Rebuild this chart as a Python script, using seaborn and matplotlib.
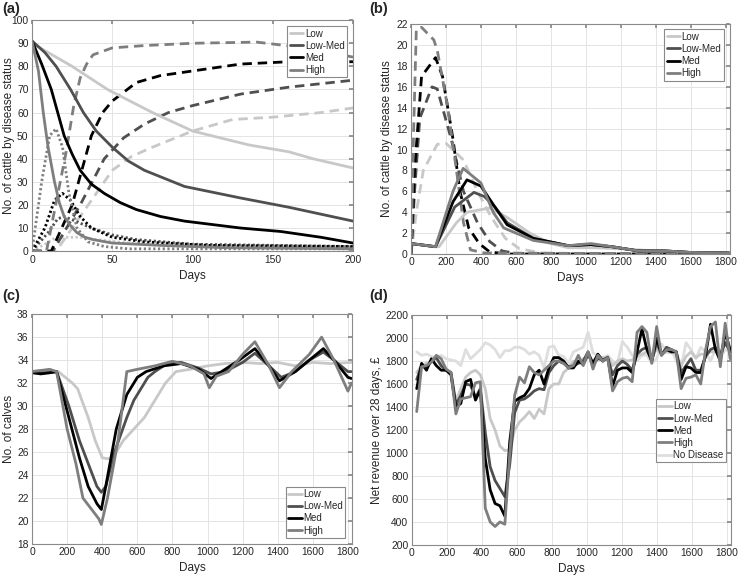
import numpy as np
import pandas as pd
import seaborn as sns
import matplotlib.pyplot as plt

# scenario names and grey shades
levels = ["Low", "Low-Med", "Med", "High"]
shades = {"Low": "#c8c8c8", "Low-Med": "#4f4f4f", "Med": "#000000",
          "High": "#7e7e7e", "No Disease": "#dedede"}

# ---- (a) first 200 days: susceptible (solid), recovered (dashed), infected (dotted)
a_sus = {
    "Low": ([0, 10, 25, 47, 75, 100, 135, 160, 175, 200], [90, 86, 80, 70, 60, 52, 46, 43, 40, 36]),
    "Low-Med": ([0, 8, 15, 24, 32, 40, 50, 60, 70, 95, 130, 160, 200],
                [91, 86, 80, 70, 60, 52, 45, 39, 35, 28, 23, 19, 13]),
    "Med": ([0, 6, 12, 16, 20, 25, 30, 37, 45, 55, 65, 80, 95, 130, 155, 180, 200],
            [91, 81, 70, 60, 50, 42, 35, 29, 25, 21, 18, 15, 13, 10, 8.5, 6, 3.5]),
    "High": ([0, 4, 7, 10, 14, 17, 20, 24, 28, 33, 38, 50, 80, 120, 200],
             [91, 78, 60, 45, 30, 21, 15, 11, 8, 6, 5, 3.5, 2.5, 1.5, 1]),
}
a_rec = {
    "Low": ([0, 15, 20, 35, 50, 62, 75, 100, 125, 150, 180, 200], [0, 0, 5, 20, 35, 41, 45, 52, 57, 58, 60, 62]),
    "Low-Med": ([0, 13, 30, 45, 57, 70, 85, 100, 130, 160, 200], [0, 0, 20, 40, 49, 55, 60, 63, 68, 71, 74]),
    "Med": ([0, 12, 25, 37, 44, 50, 65, 80, 100, 130, 160, 200], [0, 0, 20, 50, 60, 65, 73, 76, 78, 81, 82, 82]),
    "High": ([0, 9, 21, 26, 30, 34, 38, 50, 70, 100, 140, 170, 200],
             [0, 0, 42, 63, 75, 81, 85, 88, 89, 90, 90.5, 88, 84]),
}
a_inf = {
    "Low": ([0, 8, 15, 30, 40, 60, 100, 200], [0, 3, 6, 6, 5, 3.5, 2, 1.5]),
    "Low-Med": ([0, 10, 16, 20, 27, 37, 50, 65, 100, 200], [0, 8, 14, 15, 13, 10, 7, 5, 3, 2]),
    "Med": ([0, 8, 14, 19, 24, 30, 37, 50, 70, 110, 200], [0, 10, 22, 25, 22, 15, 10, 6, 4, 2.5, 2]),
    "High": ([0, 6, 11, 15, 19, 23, 28, 35, 45, 60, 200], [0, 30, 50, 53, 45, 25, 10, 4, 2, 1, 1]),
}

# ---- (b) five years: infected (solid), exposed (dashed)
b_inf = {
    "Low": ([0, 140, 160, 260, 320, 450, 550, 680, 800, 900, 1050, 1200, 1400, 1600, 1820],
            [1, 0.7, 0.7, 3, 4, 4.4, 3.5, 2, 1, 0.6, 0.6, 0.5, 0.3, 0.15, 0.1]),
    "Low-Med": ([0, 140, 250, 360, 420, 480, 550, 700, 900, 1030, 1150, 1300, 1450, 1600, 1820],
                [1, 0.7, 4.5, 5.9, 5.5, 4.5, 3, 1.5, 0.8, 0.9, 0.7, 0.3, 0.3, 0.15, 0.1]),
    "Med": ([0, 140, 240, 320, 400, 480, 550, 700, 900, 1030, 1150, 1300, 1450, 1600, 1820],
            [1, 0.7, 5, 7.1, 6.5, 4.5, 2.8, 1.5, 0.8, 0.9, 0.7, 0.3, 0.3, 0.15, 0.1]),
    "High": ([0, 140, 240, 298, 400, 470, 530, 700, 900, 1030, 1150, 1300, 1450, 1600, 1820],
             [1, 0.7, 6, 8.2, 6.8, 4, 2.5, 1.3, 0.8, 1.0, 0.7, 0.3, 0.3, 0.15, 0.1]),
}
b_exp = {
    "Low": ([0, 30, 70, 150, 200, 300, 380, 460, 540, 620, 750, 900, 1820],
            [0, 4, 8, 10.5, 10.6, 9, 6, 3.5, 1.5, 0.5, 0.1, 0, 0]),
    "Low-Med": ([0, 20, 50, 120, 150, 230, 300, 380, 450, 520, 600, 1820],
                [0, 6, 13, 16, 15.8, 11, 6, 3, 1.2, 0.3, 0.05, 0]),
    "Med": ([0, 20, 60, 140, 180, 240, 280, 330, 390, 450, 550, 1820],
            [0, 8, 17, 18.8, 17, 11, 6, 2.5, 1, 0.2, 0, 0]),
    "High": ([0, 15, 30, 60, 130, 150, 210, 260, 300, 340, 420, 1820],
             [0, 12, 21.5, 21.7, 20.5, 19.5, 14, 8, 3, 0.4, 0.1, 0]),
}

# ---- (c) number of calves
c_calves = {
    "Low": ([0, 50, 100, 150, 230, 260, 320, 360, 400, 440, 480, 520, 580, 640, 680, 720, 760, 820,
             900, 1000, 1100, 1200, 1300, 1400, 1500, 1600, 1700, 1820],
            [33, 33.1, 33, 33, 32, 31.5, 29, 27, 25.5, 25.4, 26, 27, 28, 29, 30, 31, 32, 33,
             33.2, 33.5, 33.7, 33.8, 33.7, 33.8, 33.5, 33.8, 33.7, 33.8]),
    "Low-Med": ([0, 50, 100, 140, 210, 270, 320, 370, 395, 420, 470, 540, 580, 620, 660, 700, 780, 850,
                 950, 1020, 1100, 1200, 1270, 1350, 1420, 1500, 1580, 1660, 1720, 1800, 1820],
                [33, 32.9, 32.9, 33, 30, 27, 25, 23, 22.5, 23, 26, 29, 30.5, 31.5, 32.5, 33, 33.8, 33.8,
                 33.3, 32.8, 33, 33.8, 34.6, 33.5, 32.5, 33, 34, 34.7, 34, 33, 33]),
    "Med": ([0, 50, 100, 140, 210, 270, 320, 370, 395, 420, 480, 540, 600, 650, 750, 850, 950, 1020,
             1100, 1180, 1270, 1350, 1410, 1500, 1580, 1660, 1720, 1800, 1820],
            [32.9, 32.8, 32.9, 33, 29, 25.5, 23, 21.5, 21, 23, 28, 31, 32.5, 33, 33.5, 33.7, 33.2, 32.4,
             33.2, 34, 35, 33.5, 32.2, 33, 34, 35, 34, 32.5, 32.4]),
    "High": ([0, 50, 100, 140, 200, 250, 290, 340, 380, 395, 430, 490, 540, 600, 700, 800, 900, 980,
              1010, 1050, 1120, 1200, 1270, 1350, 1410, 1480, 1580, 1650, 1720, 1800, 1820],
             [33, 33.1, 33.2, 33, 28, 25, 22, 21, 20.2, 19.7, 22, 27, 33, 33.2, 33.5, 33.9, 33.5, 32.8,
              31.6, 32.6, 33, 34.5, 35.6, 33.5, 31.6, 33, 34.5, 36, 34, 31.3, 32]),
}

# ---- (d) net revenue over 28 days, one value per 28-day period
d_days = np.arange(28, 1821, 28)
d_revenue = {
    "Low": [1700, 1760, 1780, 1800, 1820, 1760, 1730, 1700, 1450, 1560, 1660, 1700, 1720, 1680, 1560,
            1300, 1200, 1060, 1020, 1030, 1200, 1270, 1310, 1360, 1300, 1380, 1340, 1560, 1600, 1600,
            1700, 1740, 1800, 1780, 1820, 1850, 1800, 1840, 1830, 1840, 1760, 1800, 1820, 1800, 1810,
            1840, 1860, 1880, 1840, 1900, 1860, 1880, 1870, 1870, 1760, 1840, 1880, 1830, 1860, 1860,
            1880, 1880, 1880, 1960, 1900],
    "Low-Med": [1640, 1760, 1740, 1800, 1830, 1760, 1720, 1700, 1420, 1500, 1600, 1590, 1480, 1560, 1180,
                880, 760, 690, 620, 900, 1350, 1460, 1470, 1500, 1540, 1560, 1550, 1700, 1760, 1800,
                1780, 1750, 1760, 1780, 1800, 1880, 1770, 1820, 1810, 1830, 1680, 1760, 1800, 1770, 1720,
                1860, 1900, 1920, 1800, 1960, 1850, 1920, 1900, 1880, 1700, 1760, 1820, 1720, 1720, 1840,
                1900, 1920, 1850, 1960, 1880],
    "Med": [1560, 1780, 1720, 1820, 1760, 1720, 1720, 1680, 1400, 1430, 1620, 1640, 1460, 1550, 950,
            680, 560, 540, 450, 1100, 1450, 1480, 1500, 1560, 1680, 1720, 1600, 1740, 1830, 1830,
            1800, 1740, 1740, 1800, 1770, 1860, 1780, 1860, 1800, 1830, 1580, 1720, 1740, 1740, 1700,
            1880, 2080, 1900, 1800, 2000, 1860, 1900, 1880, 1880, 1640, 1750, 1740, 1700, 1700, 1850,
            2120, 1900, 1800, 2050, 1900],
    "High": [1360, 1750, 1760, 1790, 1850, 1820, 1730, 1700, 1340, 1470, 1480, 1490, 1610, 1620, 520,
             400, 360, 400, 380, 1000, 1500, 1660, 1610, 1750, 1700, 1680, 1720, 1760, 1800, 1800,
             1780, 1740, 1760, 1850, 1760, 1880, 1730, 1850, 1800, 1830, 1540, 1620, 1650, 1660, 1620,
             2050, 2100, 2050, 1780, 2100, 1850, 1900, 1900, 1880, 1560, 1650, 1660, 1680, 1600, 1900,
             2100, 2140, 1750, 2130, 1820],
    "No Disease": [1880, 1850, 1860, 1840, 1830, 1850, 1820, 1810, 1800, 1760, 1900, 1820, 1860, 1900, 1960,
                   1940, 1900, 1830, 1890, 1890, 1920, 1920, 1900, 1860, 1880, 1850, 1740, 1920, 1930, 1850,
                   1840, 1780, 1880, 1900, 1920, 2050, 1870, 1850, 1790, 1850, 1800, 1780, 1970, 1920, 1850,
                   1800, 1850, 1850, 1780, 1820, 1950, 1880, 1900, 1800, 1750, 1960, 1900, 1820, 1920, 1880,
                   1800, 1900, 1830, 1900, 1880],
}

DASH = (0, (3.4, 2.1))
DOT = (0, (0.8, 0.9))

sns.set_theme(style="whitegrid")
plt.rcParams["font.family"] = ["Liberation Sans", "DejaVu Sans"]
plt.rcParams.update({
    "axes.edgecolor": "#8a8a8a", "axes.linewidth": 0.8,
    "grid.color": "#e4e4e4", "grid.linewidth": 0.7,
    "xtick.color": "#262626", "ytick.color": "#262626",
    "xtick.labelsize": 7.4, "ytick.labelsize": 7.4,
    "axes.labelsize": 8.5, "axes.labelcolor": "#262626",
})


def draw(ax, x, y, color, style="-", label=None, lw=2.0):
    df = pd.DataFrame({"x": x, "y": y})
    sns.lineplot(data=df, x="x", y="y", ax=ax, color=color, linestyle=style,
                 linewidth=lw, label=label, legend=False, sort=False)


def finish(ax, xlim, ylim, xticks, yticks, ylabel, ylab_x, leg_loc, leg_anchor):
    ax.set_xlim(*xlim)
    ax.set_ylim(*ylim)
    ax.set_xticks(xticks)
    ax.set_yticks(yticks)
    ax.set_xlabel("Days")
    ax.set_ylabel(ylabel)
    # label anchors: top edge of xlabel, right (baseline) edge of ylabel
    ax.xaxis.set_label_coords(0.5, -0.08)
    ax.yaxis.set_label_coords(ylab_x, 0.5)
    ax.tick_params(direction="in", length=3, pad=2.5, top=True, right=True,
                   colors="#8a8a8a", labelcolor="#262626")
    for s in ax.spines.values():
        s.set_visible(True)
    leg = ax.legend(loc=leg_loc, bbox_to_anchor=leg_anchor, fontsize=7,
                    handlelength=1.4, handletextpad=0.15, labelspacing=0.22,
                    borderpad=0.25, borderaxespad=0, fancybox=False,
                    framealpha=1, edgecolor="#8a8a8a")
    leg.get_frame().set_linewidth(0.8)


fig = plt.figure(figsize=(7.38, 5.76), dpi=100)
ax_a = fig.add_axes([0.0434, 0.564, 0.435, 0.401])
ax_b = fig.add_axes([0.557, 0.559, 0.432, 0.399])
ax_c = fig.add_axes([0.0434, 0.0556, 0.434, 0.399])
ax_d = fig.add_axes([0.558, 0.054, 0.4325, 0.399])

# (a)
for lv in levels:
    draw(ax_a, *a_rec[lv], shades[lv], DASH)
    draw(ax_a, *a_inf[lv], shades[lv], DOT)
for lv in levels:
    draw(ax_a, *a_sus[lv], shades[lv], "-", label=lv)
finish(ax_a, (0, 200), (0, 100), range(0, 201, 50), range(0, 101, 10),
       "No. of cattle by disease status", -0.052, "upper right", (0.981, 0.974))

# (b)
for lv in levels:
    draw(ax_b, *b_exp[lv], shades[lv], DASH)
for lv in levels:
    draw(ax_b, *b_inf[lv], shades[lv], "-", label=lv)
finish(ax_b, (0, 1825), (0, 22), range(0, 1801, 200), range(0, 23, 2),
       "No. of cattle by disease status", -0.056, "upper right", (0.981, 0.978))

# (c)
for lv in levels:
    draw(ax_c, *c_calves[lv], shades[lv], "-", label=lv)
finish(ax_c, (0, 1825), (18, 38), range(0, 1801, 200), range(18, 39, 2),
       "No. of calves", -0.053, "lower right", (0.978, 0.026))

# (d)
draw(ax_d, d_days, d_revenue["No Disease"], shades["No Disease"], "-")
for lv in levels:
    draw(ax_d, d_days, d_revenue[lv], shades[lv], "-", label=lv)
ax_d.plot([], [], color=shades["No Disease"], lw=2.0, label="No Disease")
finish(ax_d, (0, 1825), (200, 2200), range(0, 1801, 200), range(200, 2201, 200),
       "Net revenue over 28 days, \u00a3", -0.09, "upper right", (0.984, 0.635))

for tag, x, y in [("(a)", 0.003, 0.997), ("(b)", 0.5, 0.997),
                  ("(c)", 0.003, 0.499), ("(d)", 0.5, 0.499)]:
    fig.text(x, y, tag, fontsize=10.5, fontweight="bold", va="top", ha="left")

fig.savefig("out.png", dpi=100)
